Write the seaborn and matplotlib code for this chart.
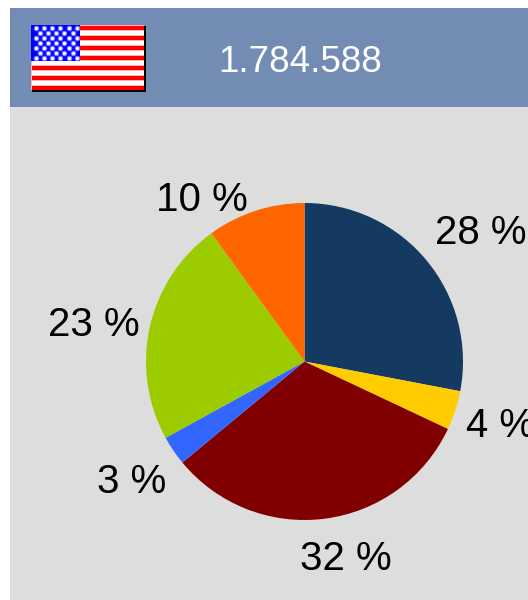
import numpy as np
import seaborn as sns
import matplotlib.pyplot as plt

TOTAL = "1.784.588"
SHARES = [28, 4, 32, 3, 23, 10]
SLICE_COLORS = ["#153a61", "#ffcc00", "#800000", "#3366ff", "#9ccc00", "#ff6600"]
LABEL_DIST = [1.39, 1.30, 1.26, 1.32, 1.35, 1.215]
LABEL_NUDGE = [-3.2, 0.3, 4.9, 0.3, 2.1, 13.9]

# flag: 13 stripes, canton stars as rows of 6 and 5
STRIPES = [1, 0, 1, 0, 1, 0, 1, 0, 1, 0, 1, 0, 1]
STAR_ROWS = [6, 5, 6, 5, 6, 5, 6]
STRIPE_COLORS = ["#ffffff", "#ff0000"]

W, H = 528, 600


def px_axes(fig, left, top, right, bottom):
    return fig.add_axes([left / W, 1 - bottom / H, (right - left) / W, (bottom - top) / H])


sns.set_style("white")
plt.rcParams["font.family"] = ["Liberation Sans", "DejaVu Sans"]
fig = plt.figure(figsize=(W / 100, H / 100), dpi=100, facecolor="white")

body = px_axes(fig, 10, 107, 528, 600)
body.set_axis_off()
body.add_patch(plt.Rectangle((0, 0), 1, 1, color="#dddddd", transform=body.transAxes))

header = px_axes(fig, 10, 8, 528, 107)
header.set_xlim(10, 528)
header.set_ylim(107, 8)
header.set_axis_off()
header.add_patch(plt.Rectangle((0, 0), 1, 1, color="#728cb4", transform=header.transAxes))
header.text(300, 62, TOTAL, color="white", fontsize=26.5, ha="center", va="center")

# flag shadow, then stripes and canton
shadow = px_axes(fig, 32, 26, 146, 92)
shadow.set_facecolor("black")
shadow.set_xticks([])
shadow.set_yticks([])
sns.despine(ax=shadow, left=True, bottom=True)

flag = px_axes(fig, 31, 25, 144, 90)
sns.heatmap(np.array(STRIPES).reshape(-1, 1), ax=flag, cbar=False, cmap=STRIPE_COLORS,
            xticklabels=False, yticklabels=False, linewidths=0.4, linecolor="#ffb4b4")

canton = px_axes(fig, 31, 25, 80, 61)
canton.set_xlim(0, 1)
canton.set_ylim(len(STAR_ROWS), 0)
canton.set_facecolor("#0000ff")
canton.set_xticks([])
canton.set_yticks([])
sns.despine(ax=canton, left=True, bottom=True)
for row, n in enumerate(STAR_ROWS):
    offset = 0.0 if n == 6 else 0.5
    xs = (np.arange(n) + 0.6 + offset) / 6
    canton.scatter(xs, [row + 0.5] * n, s=16, color="#8080ff", linewidths=0)
    canton.scatter(xs, [row + 0.5] * n, s=5, color="white", linewidths=0)

pie_ax = px_axes(fig, 146, 203, 463, 520)
wedges, _ = pie_ax.pie(SHARES, colors=SLICE_COLORS, startangle=90, counterclock=False,
                       radius=1, wedgeprops={"linewidth": 0})
pie_ax.set_xlim(-1, 1)
pie_ax.set_ylim(-1, 1)
for wedge, share, dist, nudge in zip(wedges, SHARES, LABEL_DIST, LABEL_NUDGE):
    mid = np.deg2rad((wedge.theta1 + wedge.theta2) / 2 + nudge)
    pie_ax.annotate(f"{share} %", (dist * np.cos(mid), dist * np.sin(mid)), xytext=(-0.5, -1.5),
                    textcoords="offset points", fontsize=29, color="black",
                    ha="center", va="center", annotation_clip=False)

fig.savefig("out.png", dpi=100, facecolor="white")
